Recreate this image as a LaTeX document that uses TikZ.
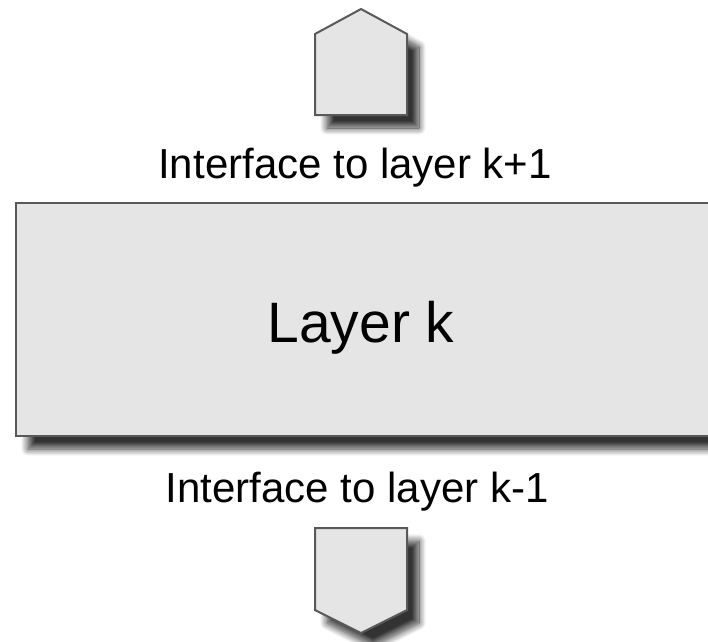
\documentclass[tikz,border=0pt]{standalone}
\usepackage{fontspec}
\setmainfont{Liberation Sans}
\usetikzlibrary{shadows.blur}

\begin{document}
\begin{tikzpicture}[x=1pt, y=-1pt,
    part/.style={draw=black!65, line width=2pt, fill=black!10, line join=miter,
      blur shadow={shadow xshift=12pt, shadow yshift=-13pt, shadow opacity=80,
        shadow blur radius=7pt, shadow blur steps=16}},
    iflabel/.style={anchor=base, font=\fontsize{42}{50}\selectfont},
    layerlabel/.style={anchor=base, font=\fontsize{57}{68}\selectfont}]
    \useasboundingbox (0, 0) rectangle (708, 641);

    \draw[part] (315, 115)--(315, 34)--(361, 9)--(407, 34)--(407, 115)--cycle;
    \node[iflabel] (upper) at (355, 178) {Interface to layer k+1};

    \draw[part] (16, 203) rectangle (714, 436);
    \node[layerlabel] (layer) at (361, 342) {Layer k};

    \node[iflabel] (lower) at (357, 502) {Interface to layer k-1};
    \draw[part] (315, 528)--(407, 528)--(407, 610)--(361, 633)--(315, 610)--cycle;
  \end{tikzpicture}
\end{document}
